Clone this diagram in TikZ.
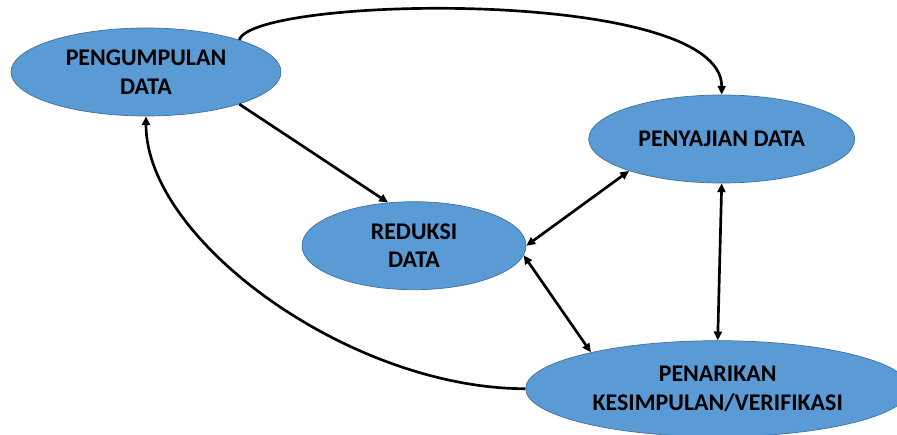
\documentclass[tikz,border=0pt]{standalone}
\usepackage{fontspec}
\setmainfont{Carlito}
\usetikzlibrary{arrows.meta,positioning,shapes.geometric}
\definecolor{stageblue}{RGB}{91,155,213}
\definecolor{stageline}{RGB}{65,113,156}

\begin{document}
\begin{tikzpicture}[
    every node/.style={font=\fontsize{17}{20.5}\selectfont\bfseries},
    stage/.style={ellipse, draw=stageline, line width=0.5pt, fill=stageblue, align=center, inner sep=0pt, minimum height=2.2cm},
    flow/.style={-{Triangle[length=2.2mm,width=2mm]}, line width=1.9pt},
    twoway/.style={{Triangle[length=2.2mm,width=2mm]}-{Triangle[length=2.2mm,width=2mm]}, line width=1.9pt}
]
\useasboundingbox (0,0) rectangle (22.425,10.85);
\node[stage, minimum width=6.75cm] (kumpul) at (3.65,9.05) {PENGUMPULAN\\DATA};
\node[stage, minimum width=6.65cm, right=7.675cm of kumpul, yshift=-1.675cm] (saji) {PENYAJIAN DATA};
\node[stage, minimum width=5.6cm, below=2.125cm of kumpul, xshift=6.7cm] (reduksi) {REDUKSI\\DATA};
\node[stage, minimum width=9.6cm, minimum height=2.4cm, below=3.925cm of saji, xshift=-0.1cm] (tarik) {PENARIKAN\\KESIMPULAN/VERIFIKASI};
\draw[flow] (kumpul.-19) -- (reduksi.121);
\draw[flow] (kumpul.19) .. controls +(0.35,1.1) and +(0,2.7) .. (saji.north);
\draw[flow] (tarik.west) .. controls +(-4.375,0) and +(0,-3.1) .. (kumpul.south);
\draw[twoway] (reduksi.east) -- (saji.199);
\draw[twoway] (reduksi.-5) -- (tarik.164);
\draw[twoway] (saji.south) -- (tarik.north);
\end{tikzpicture}
\end{document}
